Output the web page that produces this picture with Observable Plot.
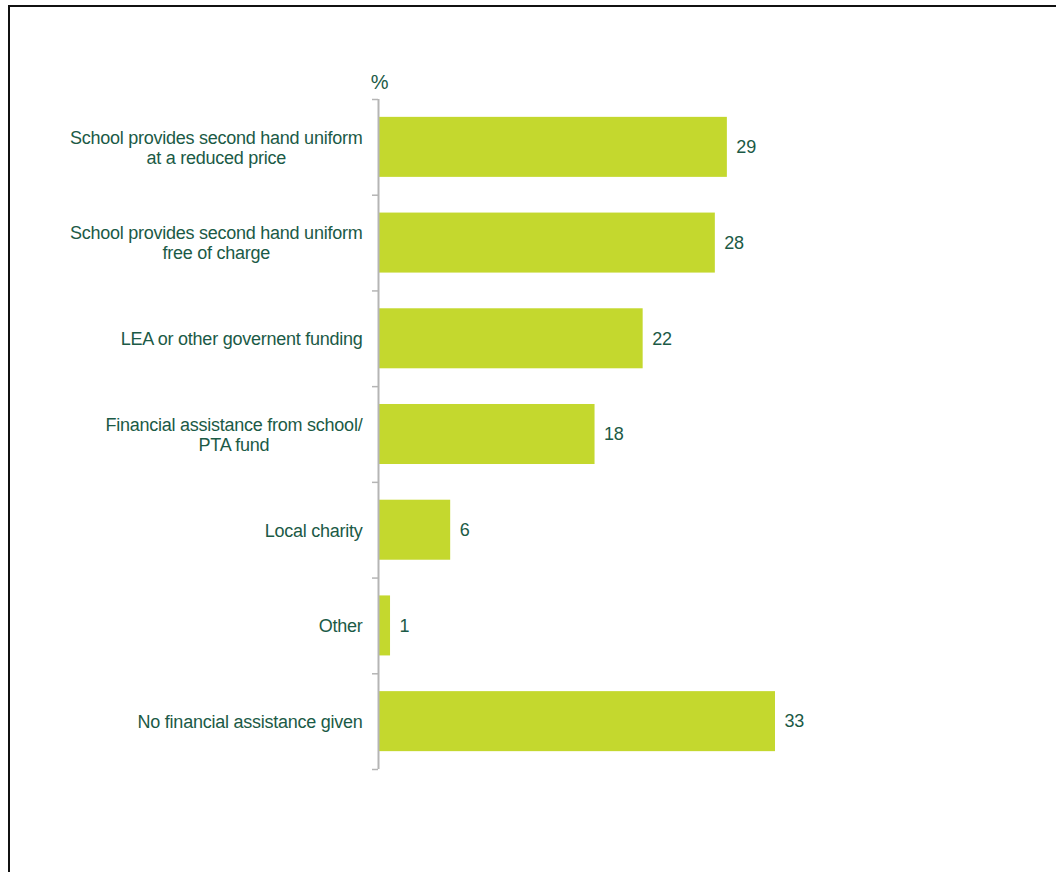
<!DOCTYPE html>
<html>
<head>
<meta charset="utf-8">
<script src="https://cdn.jsdelivr.net/npm/d3@7"></script>
<script src="https://cdn.jsdelivr.net/npm/@observablehq/plot@0.6"></script>
<style>
  html, body { margin: 0; padding: 0; background: #fff; }
  #wrap { position: relative; width: 1056px; height: 872px; overflow: hidden; }
  #chart { position: absolute; left: 0; top: 0; }
  #frame { position: absolute; left: 8px; top: 5px; width: 1100px; height: 900px;
           border-left: 2px solid #111; border-top: 2px solid #111; pointer-events: none; }
  #chart text { letter-spacing: -0.25px; }
</style>
</head>
<body>
<div id="wrap"><div id="chart"></div><div id="frame"></div></div>
<script>
const categories = [
  "School provides second hand uniform at a reduced price",
  "School provides second hand uniform free of charge",
  "LEA or other governent funding",
  "Financial assistance from school/PTA fund",
  "Local charity",
  "Other",
  "No financial assistance given"
];
const tickLabels = [
  "School provides second hand uniform\nat a reduced price",
  "School provides second hand uniform\nfree of charge",
  "LEA or other governent funding",
  "Financial assistance from school/\nPTA fund",
  "Local charity",
  "Other",
  "No financial assistance given"
];
const values = [29, 28, 22, 18, 6, 1, 33];
const unitLabel = "%";

const data = categories.map((c, i) => ({category: c, label: tickLabels[i], value: values[i]}));

const textColor = "#1b5a46";
const barColor = "#c4d82e";
const axisColor = "#b5b5b5";

const W = 1056, H = 872, mT = 99, mB = 103, mL = 378, mR = 196.8;
const step = (H - mT - mB) / categories.length;

const chart = Plot.plot({
  width: W, height: H,
  marginLeft: mL, marginRight: mR, marginTop: mT, marginBottom: mB,
  x: {domain: [0, 40], axis: null},
  y: {domain: categories, paddingInner: 0.373, paddingOuter: 0.1865, round: false, axis: null},
  style: {fontFamily: "Arial, 'Liberation Sans', sans-serif", fontSize: "18px", color: textColor, background: "transparent", overflow: "visible"},
  marks: [
    Plot.barX(data, {x: "value", y: "category", fill: barColor}),
    Plot.axisY({tickSize: 6, tickFormat: () => "", stroke: axisColor, strokeWidth: 1.5, dy: -step / 2, label: null}),
    Plot.axisY([categories[categories.length - 1]], {tickSize: 6, tickFormat: () => "", stroke: axisColor, strokeWidth: 1.5, dy: step / 2, label: null}),
    Plot.ruleX([0], {stroke: axisColor, strokeWidth: 2}),
    Plot.text(data, {y: "category", text: "label", frameAnchor: "left", dx: -16, textAnchor: "end", lineHeight: 1.11, fill: textColor, fontSize: 18, className: "cat-labels"}),
    Plot.text(data, {x: "value", y: "category", text: d => String(d.value), dx: 9, textAnchor: "start", fill: textColor, fontSize: 18}),
    Plot.text([unitLabel], {frameAnchor: "top-left", lineAnchor: "middle", dx: 1, dy: -17, textAnchor: "middle", fill: textColor, fontSize: 20})
  ]
});
document.getElementById("chart").appendChild(chart);

// center multi-line category labels as a block right-aligned to the axis
chart.querySelectorAll("g.cat-labels text").forEach(t => {
  const spans = t.querySelectorAll("tspan");
  if (spans.length < 2) return;
  const w = t.getBBox().width;
  t.setAttribute("text-anchor", "middle");
  spans.forEach(s => s.setAttribute("x", -w / 2));
});
</script>
</body>
</html>
